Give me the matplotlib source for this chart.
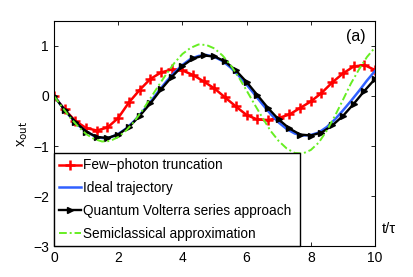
import numpy as np
import matplotlib
matplotlib.use("Agg")
from matplotlib import pyplot as plt

plt.rcParams["font.family"] = ["Liberation Sans", "DejaVu Sans"]

# time grids
t_fine = np.arange(0, 10.001, 0.25)
t_mark = np.linspace(0, 10, 31)

# few-photon truncation (red, + markers), sampled on t_mark
x_fewphoton = [0.00, -0.27, -0.50, -0.64, -0.69, -0.63, -0.44, -0.13, 0.12, 0.34,
               0.47, 0.53, 0.51, 0.42, 0.29, 0.15, -0.03, -0.21, -0.38, -0.47,
               -0.48, -0.44, -0.37, -0.24, -0.11, 0.06, 0.27, 0.45, 0.59, 0.62, 0.52]

# ideal trajectory (blue), sampled on t_fine
x_ideal = [0.00, -0.21, -0.41, -0.58, -0.71, -0.80, -0.84, -0.83, -0.76, -0.65,
           -0.50, -0.32, -0.12, 0.09, 0.29, 0.47, 0.62, 0.74, 0.80, 0.82,
           0.78, 0.70, 0.57, 0.41, 0.23, 0.03, -0.17, -0.36, -0.53, -0.66,
           -0.75, -0.79, -0.78, -0.73, -0.62, -0.47, -0.29, -0.10, 0.10, 0.31, 0.50]

# quantum Volterra series approach (black, > markers), sampled on t_mark
x_volterra = [0.00, -0.28, -0.52, -0.71, -0.82, -0.84, -0.77, -0.62, -0.40, -0.15,
              0.13, 0.38, 0.60, 0.75, 0.81, 0.79, 0.69, 0.51, 0.28, 0.02,
              -0.24, -0.47, -0.65, -0.77, -0.79, -0.73, -0.59, -0.40, -0.16, 0.10, 0.34]

# semiclassical approximation (green, dash-dot), sampled on t_fine
x_semiclassical = [0.00, -0.22, -0.43, -0.61, -0.76, -0.86, -0.91, -0.90, -0.82, -0.69,
                   -0.51, -0.29, -0.05, 0.20, 0.44, 0.66, 0.84, 0.96, 1.03, 1.02,
                   0.95, 0.81, 0.62, 0.38, 0.11, -0.17, -0.44, -0.70, -0.90, -1.05,
                   -1.14, -1.15, -1.08, -0.93, -0.69, -0.40, -0.08, 0.25, 0.53, 0.78, 0.97]

series_labels = ["Few\u2212photon truncation", "Ideal trajectory",
                 "Quantum Volterra series approach", "Semiclassical approximation"]

fig = plt.figure(figsize=(4.14, 2.77), dpi=100)
ax = fig.add_axes([0.1304, 0.1119, 0.7754, 0.8123])

ax.plot(t_mark, x_fewphoton, color="#ff0000", lw=1.8, marker="+", ms=6.5, mew=1.8,
        label=series_labels[0])
ax.plot(t_fine, x_ideal, color="#3060ff", lw=1.8, label=series_labels[1])
ax.plot(t_mark, x_volterra, color="black", lw=1.7, marker=">", ms=5,
        label=series_labels[2])
ax.plot(t_fine, x_semiclassical, color="#66ee22", lw=1.4, ls=(0, (4, 1.5, 1, 1.5)),
        label=series_labels[3])

ax.set_xlim(0, 10)
ax.set_ylim(-3, 1.5)
ax.set_xticks([0, 2, 4, 6, 8, 10])
ax.set_yticks([-3, -2, -1, 0, 1])
ax.tick_params(direction="in", top=True, right=True, labelsize=10, length=3, width=0.6)
for s in ax.spines.values():
    s.set_linewidth(0.8)

ax.set_ylabel(r"x$_{\mathrm{out}}$", fontsize=10.5, labelpad=2)
ax.text(1.02, 0.076, "t/\u03c4", transform=ax.transAxes, fontsize=10.5, va="center", ha="left")
ax.text(0.97, 0.93, "(a)", transform=ax.transAxes, fontsize=11.5, va="center", ha="right")

leg = ax.legend(loc="lower left", bbox_to_anchor=(0, 0, 0.766, 0.418), mode="expand",
                borderaxespad=0, fontsize=9.8,
                frameon=True, fancybox=False, edgecolor="black", framealpha=1,
                handlelength=1.6, handletextpad=0.15, labelspacing=0.64,
                borderpad=0.4)
leg.get_frame().set_linewidth(1.0)

fig.savefig("out.png", dpi=100)
